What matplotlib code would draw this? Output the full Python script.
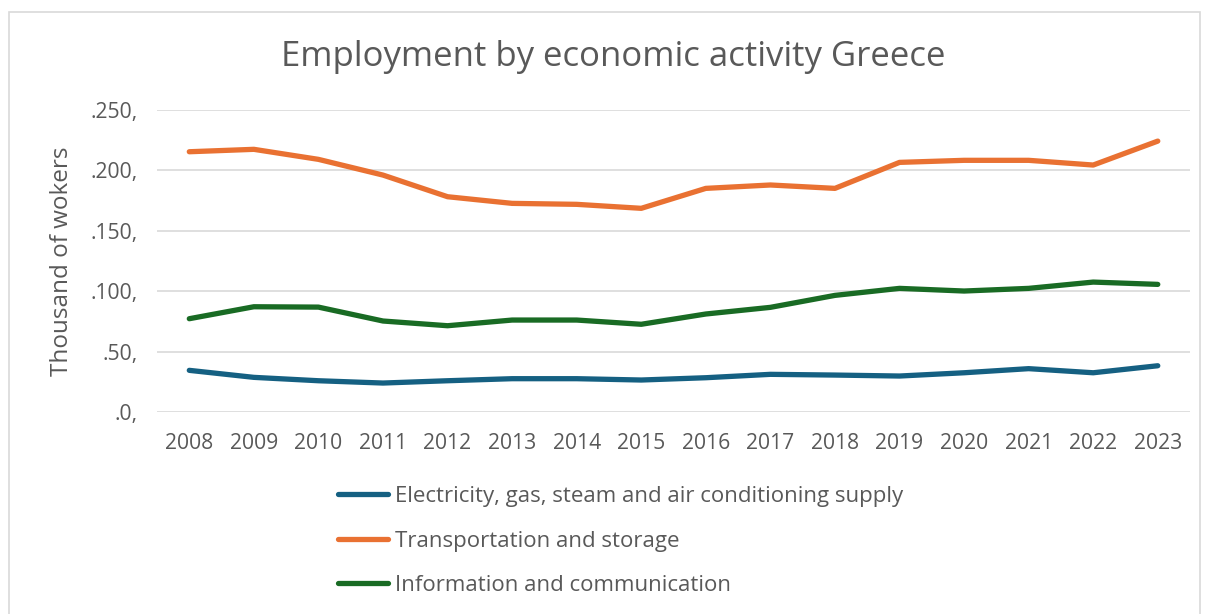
import matplotlib.pyplot as plt
from matplotlib.ticker import FuncFormatter
from matplotlib.patches import Rectangle

plt.rcParams['font.family'] = ['Open Sans', 'DejaVu Sans']

years = [str(y) for y in range(2008, 2024)]

# thousand of workers per sector
electricity = [34.7, 28.9, 26.1, 24.2, 26.1, 27.8, 27.8, 26.7,
               28.6, 31.4, 30.8, 30.0, 32.7, 36.1, 32.7, 38.5]
transport = [215.5, 217.5, 209.2, 196.2, 178.3, 172.8, 172.0, 168.7,
             185.2, 188.0, 185.2, 206.7, 208.4, 208.4, 204.5, 224.3]
information = [77.4, 87.3, 87.0, 75.5, 71.6, 76.3, 76.3, 72.8,
               81.3, 86.8, 96.7, 102.5, 100.3, 102.5, 107.7, 105.8]

labels = ['Electricity, gas, steam and air conditioning supply',
          'Transportation and storage',
          'Information and communication']
colors = ['#156082', '#E97132', '#196B24']
text_col = '#595959'

fig = plt.figure(figsize=(12.05, 6.14), dpi=100)
ax = fig.add_axes([0.1303, 0.3285, 0.8573, 0.4923])

x = range(len(years))
for vals, lab, col in zip([electricity, transport, information], labels, colors):
    ax.plot(x, vals, color=col, lw=3.8, label=lab, solid_capstyle='round',
            solid_joinstyle='round')

ax.set_xlim(-0.5, len(years) - 0.5)
ax.set_ylim(0, 250)
ax.set_yticks(range(0, 251, 50))
ax.yaxis.set_major_formatter(FuncFormatter(lambda v, p: f'.{int(v)},'))
ax.set_xticks(list(x))
ax.set_xticklabels(years)
ax.grid(axis='y', color='#D9D9D9', lw=1.2)
ax.set_axisbelow(True)
for s in ax.spines.values():
    s.set_visible(False)
ax.tick_params(length=0, labelsize=15.2, colors=text_col, pad=15)
ax.tick_params(axis='y', pad=14)

ax.set_ylabel('Thousand of wokers', fontsize=17.5, color=text_col, labelpad=12)
fig.text(0.509, 0.907, 'Employment by economic activity Greece',
         ha='center', va='center', fontsize=25, color=text_col)

ax.legend(loc='upper left', bbox_to_anchor=(0.264, 1 - 466 / 614),
          bbox_transform=fig.transFigure, frameon=False, fontsize=16,
          handlelength=2.25, handletextpad=0.3, labelspacing=1.06,
          labelcolor=text_col)

fig.patches.append(Rectangle((9 / 1205, -0.05), 1191 / 1205, 1.05 - 12 / 614,
                             transform=fig.transFigure, fill=False,
                             edgecolor='#D9D9D9', lw=1.2))

fig.savefig('out.png', dpi=100)
